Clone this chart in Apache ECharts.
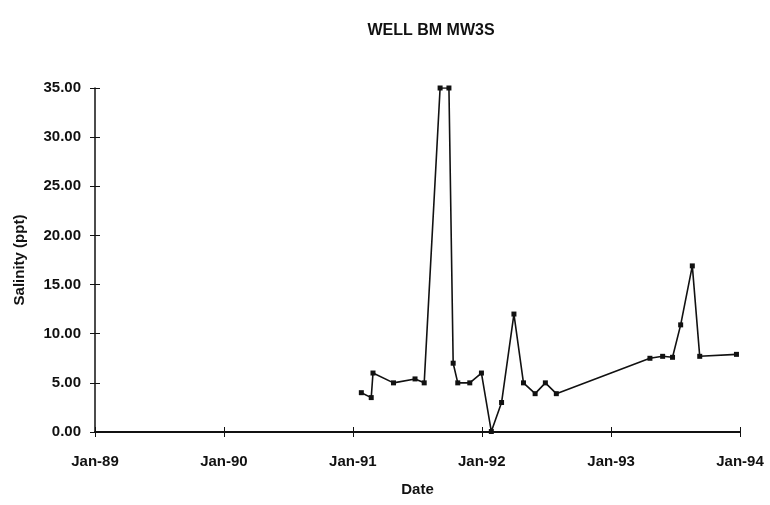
<!DOCTYPE html>
<html>
<head>
<meta charset="utf-8">
<script src="https://cdn.jsdelivr.net/npm/echarts@6/dist/echarts.min.js"></script>
<style>
  html, body { margin: 0; padding: 0; background: #fff; }
  #chart { width: 770px; height: 505px; }
</style>
</head>
<body>
<div id="chart"></div>
<script>
// Salinity samples for well BM MW3S
const sampleDates = [
  '1991-01-25', '1991-02-22', '1991-02-27', '1991-04-26', '1991-06-26',
  '1991-07-22', '1991-09-05', '1991-09-30', '1991-10-12', '1991-10-25',
  '1991-11-28', '1991-12-31', '1992-01-28', '1992-02-26', '1992-04-01',
  '1992-04-28', '1992-05-31', '1992-06-29', '1992-07-30', '1993-04-21',
  '1993-05-27', '1993-06-24', '1993-07-17', '1993-08-19', '1993-09-09',
  '1993-12-22'
];
const salinityPpt = [
  4.0, 3.5, 6.0, 5.0, 5.4,
  5.0, 35.0, 35.0, 7.0, 5.0,
  5.0, 6.0, 0.05, 3.0, 12.0,
  5.0, 3.9, 5.0, 3.9, 7.5,
  7.7, 7.6, 10.9, 16.9, 7.7,
  7.9
];
const monthNames = ['Jan','Feb','Mar','Apr','May','Jun','Jul','Aug','Sep','Oct','Nov','Dec'];
const axisStart = '1989-01-01';
const axisEnd = '1994-01-01';
const yMax = 35;
const yStep = 5;

const FONT = "'Liberation Sans', Arial, sans-serif";
const INK = '#111';

const points = sampleDates.map((d, i) => [d, salinityPpt[i]]);

function monthLabel(v) {
  const d = new Date(v);
  return monthNames[d.getMonth()] + '-' + String(d.getFullYear()).slice(2);
}

const yearMs = 365.25 * 24 * 3600 * 1000;

const baseX = {
  type: 'time',
  min: axisStart,
  max: axisEnd,
  minInterval: yearMs * 0.9,
  maxInterval: yearMs * 1.1,
  splitLine: { show: false },
  position: 'bottom'
};
const baseY = {
  type: 'value',
  min: 0,
  max: yMax,
  interval: yStep,
  splitLine: { show: false },
  position: 'left'
};

const chart = echarts.init(document.getElementById('chart'), null, { renderer: 'canvas' });
chart.setOption({
  backgroundColor: '#fff',
  animation: false,
  title: {
    text: 'WELL BM MW3S',
    left: 426,
    top: 18,
    textAlign: 'center',
    textStyle: { fontFamily: FONT, fontWeight: 'bold', fontSize: 16, color: INK }
  },
  grid: { left: 95, right: 30, top: 88, bottom: 73, containLabel: false },
  xAxis: [
    Object.assign({}, baseX, {
      name: 'Date',
      nameLocation: 'middle',
      nameGap: 50,
      nameTextStyle: { fontFamily: FONT, fontWeight: 'bold', fontSize: 15, color: INK },
      axisLine: { show: true, lineStyle: { color: INK, width: 2 } },
      axisTick: { show: true, inside: false, length: 5, lineStyle: { color: INK, width: 1 } },
      axisLabel: {
        show: true, margin: 22, formatter: monthLabel,
        showMinLabel: true, showMaxLabel: true,
        fontFamily: FONT, fontWeight: 'bold', fontSize: 15, color: INK
      }
    }),
    Object.assign({}, baseX, {
      axisLine: { show: false },
      axisTick: { show: true, inside: true, length: 5, lineStyle: { color: INK, width: 1 } },
      axisLabel: { show: false }
    })
  ],
  yAxis: [
    Object.assign({}, baseY, {
      name: 'Salinity (ppt)',
      nameLocation: 'middle',
      nameGap: 68,
      nameRotate: 90,
      nameTextStyle: { fontFamily: FONT, fontWeight: 'bold', fontSize: 15, color: INK },
      axisLine: { show: true, lineStyle: { color: INK, width: 1.5 } },
      axisTick: { show: true, inside: false, length: 5, lineStyle: { color: INK, width: 1 } },
      axisLabel: {
        show: true, margin: 14, formatter: v => v.toFixed(2),
        fontFamily: FONT, fontWeight: 'bold', fontSize: 15, color: INK
      }
    }),
    Object.assign({}, baseY, {
      axisLine: { show: false },
      axisTick: { show: true, inside: true, length: 5, lineStyle: { color: INK, width: 1 } },
      axisLabel: { show: false }
    })
  ],
  series: [{
    type: 'line',
    xAxisIndex: 0,
    yAxisIndex: 0,
    data: points,
    symbol: 'rect',
    symbolSize: 5,
    showAllSymbol: true,
    lineStyle: { color: INK, width: 1.6 },
    itemStyle: { color: INK, borderWidth: 0 },
    emphasis: { disabled: true }
  }]
});
</script>
</body>
</html>
